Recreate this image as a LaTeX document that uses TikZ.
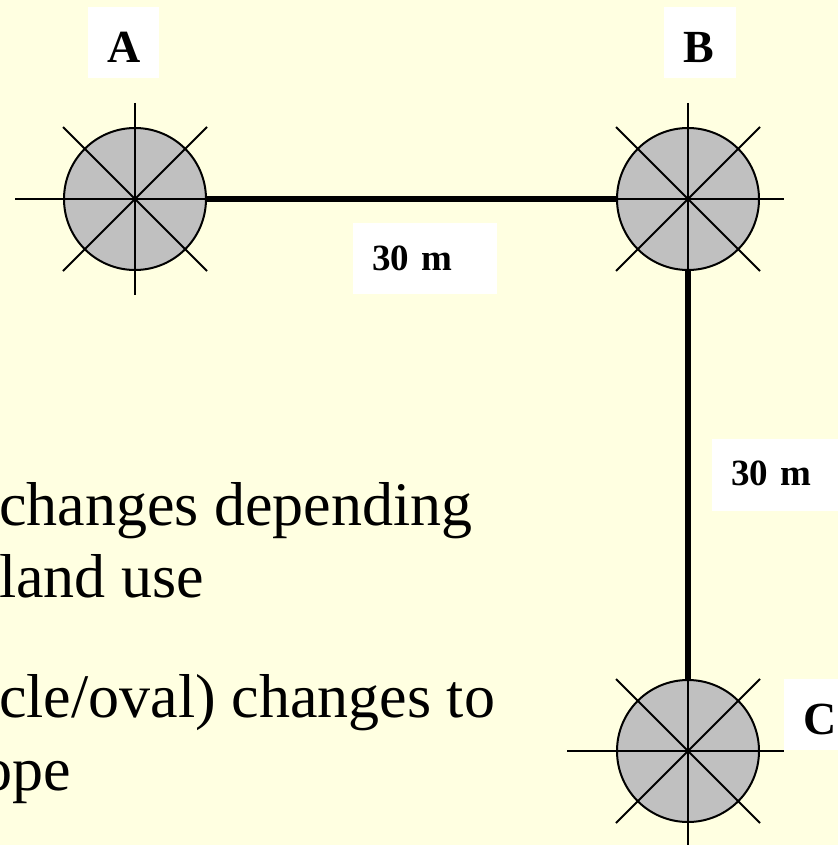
\documentclass[tikz,border=0pt]{standalone}
\usepackage{fontspec}
\setmainfont{Liberation Serif}
\definecolor{bg}{RGB}{255,255,225}
\definecolor{silver}{RGB}{192,192,192}
\begin{document}
\begin{tikzpicture}[x=1pt,y=-1pt,
  plot/.style={circle, draw, line width=2pt, fill=silver, minimum size=142pt, inner sep=0pt},
  hair/.style={line width=2pt},
  tape/.style={line width=5.5pt},
  lbl/.style={fill=white, inner xsep=19pt, inner ysep=0pt, align=left,
    font=\fontsize{46}{46}\selectfont\bfseries},
  dist/.style={lbl, font=\fontsize{37}{37}\selectfont\bfseries},
  body/.style={anchor=base west, inner sep=0pt, font=\fontsize{62}{72}\selectfont}]
\path[use as bounding box, fill=bg] (0,0) rectangle (838,845);
\clip (0,0) rectangle (838,845);

% text
\node[body] (t1) at (-1,525) {changes depending};
\node[body] (t2) at (-1,597) {land use};
\node[body] (t3) at (-1,717) {cle/oval) changes to};
\node[body] (t4) at (-19,790) {ope};

% plots
\node[plot] (A) at (135,199) {};
\node[plot] (B) at (688,199) {};
\node[plot] (C) at (688,751) {};

% connectors
\draw[tape] (A.east) -- (B.west);
\draw[tape] (B.south) -- (C.north);

% crosshairs
\draw[hair] (A.center) ++(-120,0) -- ++(192,0);
\draw[hair] (A.center) ++(0,-96) -- ++(0,192);
\draw[hair] (A.center) ++(-72,-72) -- ++(144,144);
\draw[hair] (A.center) ++(-72,72) -- ++(144,-144);

\draw[hair] (B.center) ++(-72,0) -- ++(168,0);
\draw[hair] (B.center) ++(0,-96) -- ++(0,168);
\draw[hair] (B.center) ++(-72,-72) -- ++(144,144);
\draw[hair] (B.center) ++(-72,72) -- ++(144,-144);

\draw[hair] (C.center) ++(-121,0) -- ++(217,0);
\draw[hair] (C.center) ++(0,-72) -- ++(0,168);
\draw[hair] (C.center) ++(-72,-72) -- ++(144,144);
\draw[hair] (C.center) ++(-72,72) -- ++(144,-144);

% labels
\node[lbl, text width=33pt, text height=56pt, text depth=15pt] (la) at (123.5,42.5) {A};
\node[lbl, text width=34pt, text height=56pt, text depth=15pt] (lb) at (700,42.5) {B};
\node[lbl, text width=33pt, text height=55pt, text depth=16pt] (lc) at (819.5,714.5) {C};
\node[dist, text width=106pt, text height=47pt, text depth=24pt] (dab) at (425,258.5) {30 m};
\node[dist, text width=106pt, text height=46pt, text depth=26pt] (dbc) at (784,475) {30 m};
\end{tikzpicture}
\end{document}
